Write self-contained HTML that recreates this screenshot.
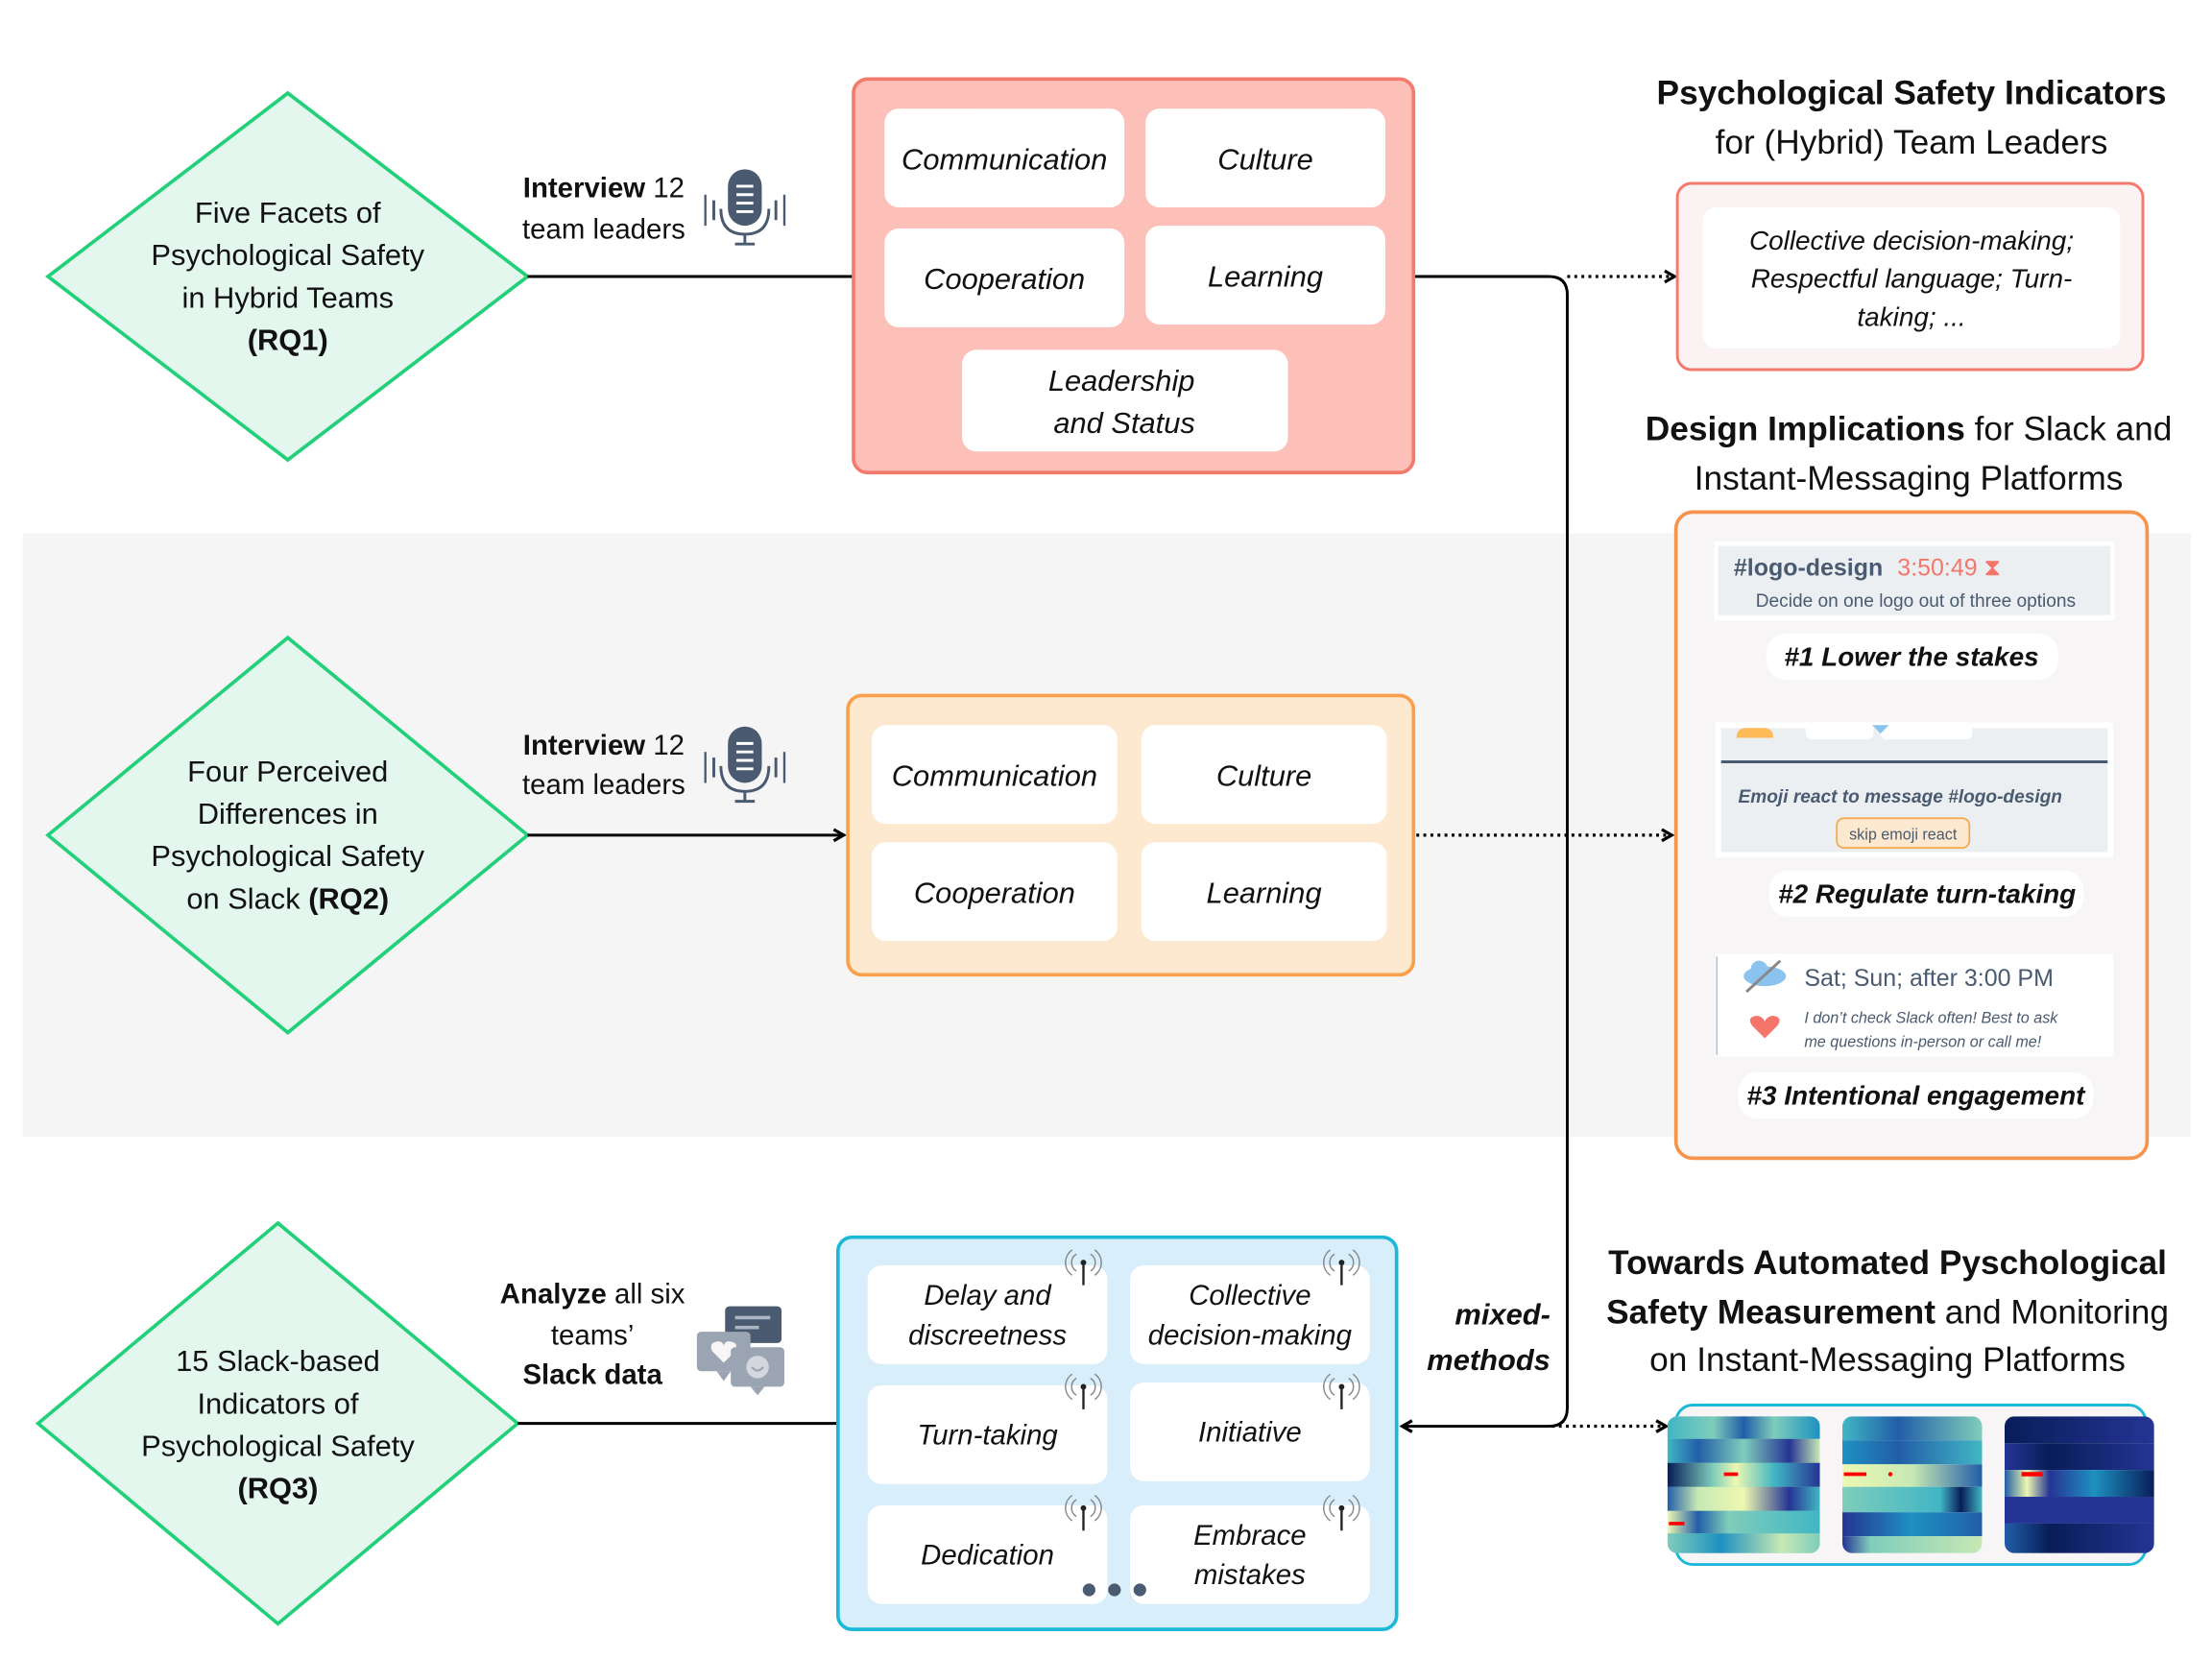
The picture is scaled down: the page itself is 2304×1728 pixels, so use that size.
<!DOCTYPE html>
<html><head><meta charset="utf-8"><style>
html,body{margin:0;padding:0;background:#fff;}
svg{display:block;}
text{font-family:"Liberation Sans",sans-serif;}
</style></head><body>
<svg width="2304" height="1728" viewBox="0 0 1568 1176" xmlns="http://www.w3.org/2000/svg">
<defs>
<marker id="ah" markerWidth="10" markerHeight="10" refX="8" refY="5" orient="auto" markerUnits="userSpaceOnUse"><path d="M1,1 L8,5 L1,9" fill="none" stroke="#000" stroke-width="2.2"/></marker>
<clipPath id="r1"><rect width="108" height="97" rx="7"/></clipPath>
<clipPath id="r2"><rect width="99" height="97" rx="7"/></clipPath>
<clipPath id="r3"><rect width="106" height="97" rx="7"/></clipPath>
<linearGradient id="a1" x1="0" x2="1"><stop offset="0" stop-color="#41b6c4"/><stop offset=".3" stop-color="#7fcdbb"/><stop offset=".5" stop-color="#225ea8"/><stop offset=".7" stop-color="#7fcdbb"/><stop offset="1" stop-color="#1d91c0"/></linearGradient>
<linearGradient id="a2" x1="0" x2="1"><stop offset="0" stop-color="#41b6c4"/><stop offset=".2" stop-color="#225ea8"/><stop offset=".5" stop-color="#7fcdbb"/><stop offset=".8" stop-color="#253494"/><stop offset="1" stop-color="#c7e9b4"/></linearGradient>
<linearGradient id="a3" x1="0" x2="1"><stop offset="0" stop-color="#081d58"/><stop offset=".3" stop-color="#7fcdbb"/><stop offset=".45" stop-color="#edf8b1"/><stop offset=".7" stop-color="#41b6c4"/><stop offset="1" stop-color="#253494"/></linearGradient>
<linearGradient id="a4" x1="0" x2="1"><stop offset="0" stop-color="#225ea8"/><stop offset=".2" stop-color="#c7e9b4"/><stop offset=".5" stop-color="#edf8b1"/><stop offset=".8" stop-color="#253494"/><stop offset="1" stop-color="#41b6c4"/></linearGradient>
<linearGradient id="a5" x1="0" x2="1"><stop offset="0" stop-color="#edf8b1"/><stop offset=".2" stop-color="#225ea8"/><stop offset=".4" stop-color="#7fcdbb"/><stop offset="1" stop-color="#41b6c4"/></linearGradient>
<linearGradient id="a6" x1="0" x2="1"><stop offset="0" stop-color="#7fcdbb"/><stop offset=".35" stop-color="#1d91c0"/><stop offset=".75" stop-color="#c7e9b4"/><stop offset="1" stop-color="#7fcdbb"/></linearGradient>
<linearGradient id="b1" x1="0" x2="1"><stop offset="0" stop-color="#41b6c4"/><stop offset=".4" stop-color="#225ea8"/><stop offset="1" stop-color="#7fcdbb"/></linearGradient>
<linearGradient id="b2" x1="0" x2="1"><stop offset="0" stop-color="#1d91c0"/><stop offset=".4" stop-color="#225ea8"/><stop offset="1" stop-color="#41b6c4"/></linearGradient>
<linearGradient id="b3" x1="0" x2="1"><stop offset="0" stop-color="#edf8b1"/><stop offset=".5" stop-color="#c7e9b4"/><stop offset="1" stop-color="#225ea8"/></linearGradient>
<linearGradient id="b4" x1="0" x2="1"><stop offset="0" stop-color="#7fcdbb"/><stop offset=".7" stop-color="#41b6c4"/><stop offset=".85" stop-color="#081d58"/><stop offset="1" stop-color="#41b6c4"/></linearGradient>
<linearGradient id="b5" x1="0" x2="1"><stop offset="0" stop-color="#253494"/><stop offset=".5" stop-color="#1d91c0"/><stop offset="1" stop-color="#225ea8"/></linearGradient>
<linearGradient id="b6" x1="0" x2="1"><stop offset="0" stop-color="#253494"/><stop offset=".2" stop-color="#7fcdbb"/><stop offset="1" stop-color="#c7e9b4"/></linearGradient>
<linearGradient id="c1" x1="0" x2="1"><stop offset="0" stop-color="#081d58"/><stop offset="1" stop-color="#253494"/></linearGradient>
<linearGradient id="c2" x1="0" x2="1"><stop offset="0" stop-color="#253494"/><stop offset=".3" stop-color="#081d58"/><stop offset="1" stop-color="#253494"/></linearGradient>
<linearGradient id="c3" x1="0" x2="1"><stop offset="0" stop-color="#225ea8"/><stop offset=".15" stop-color="#edf8b1"/><stop offset=".3" stop-color="#253494"/><stop offset=".6" stop-color="#1d91c0"/><stop offset="1" stop-color="#081d58"/></linearGradient>
<linearGradient id="c4" x1="0" x2="1"><stop offset="0" stop-color="#253494"/><stop offset="1" stop-color="#253494"/></linearGradient>
<linearGradient id="c5" x1="0" x2="1"><stop offset="0" stop-color="#225ea8"/><stop offset=".3" stop-color="#081d58"/><stop offset="1" stop-color="#253494"/></linearGradient>
<g id="ant"><line x1="0" y1="0" x2="0" y2="16" stroke="#222" stroke-width="1.6"/><circle cx="0" cy="0" r="2" fill="#222"/><path d="M-5,-6 A7,7 0 0,0 -5,6 M5,-6 A7,7 0 0,1 5,6 M-8,-9 A11,11 0 0,0 -8,9 M8,-9 A11,11 0 0,1 8,9" fill="none" stroke="#888" stroke-width="1"/></g>
<g id="mic"><rect x="-12" y="-28" width="24" height="40" rx="12" fill="#4a5a70"/><line x1="-6" y1="-16" x2="6" y2="-16" stroke="#fff" stroke-width="2"/><line x1="-6" y1="-10" x2="6" y2="-10" stroke="#fff" stroke-width="2"/><line x1="-6" y1="-4" x2="6" y2="-4" stroke="#fff" stroke-width="2"/><line x1="-6" y1="2" x2="6" y2="2" stroke="#fff" stroke-width="2"/><path d="M-17,0 Q-17,18 0,18 Q17,18 17,0" fill="none" stroke="#4a5a70" stroke-width="2"/><line x1="0" y1="18" x2="0" y2="25" stroke="#4a5a70" stroke-width="2"/><line x1="-7" y1="25" x2="7" y2="25" stroke="#4a5a70" stroke-width="2"/><line x1="-22" y1="-6" x2="-22" y2="8" stroke="#4a5a70" stroke-width="2"/><line x1="22" y1="-6" x2="22" y2="8" stroke="#4a5a70" stroke-width="2"/><line x1="-28" y1="-10" x2="-28" y2="12" stroke="#4a5a70" stroke-width="1.6"/><line x1="28" y1="-10" x2="28" y2="12" stroke="#4a5a70" stroke-width="1.6"/></g>
</defs>

<rect x="16" y="378" width="1537" height="428" fill="#f6f5f6"/>

<polygon points="204,66 374,196 204,326 34,196" fill="#e3f7ee" stroke="#22d07a" stroke-width="2.5"/>
<polygon points="204,452 374,592 204,732 34,592" fill="#e3f7ee" stroke="#22d07a" stroke-width="2.5"/>
<polygon points="197,867 367,1009 197,1151 27,1009" fill="#e3f7ee" stroke="#22d07a" stroke-width="2.5"/>
<g font-size="21" text-anchor="middle" fill="#111">
<text x="204" y="158">Five Facets of</text><text x="204" y="188">Psychological Safety</text><text x="204" y="218">in Hybrid Teams</text><text x="204" y="248" font-weight="bold">(RQ1)</text>
<text x="204" y="554">Four Perceived</text><text x="204" y="584">Differences in</text><text x="204" y="614">Psychological Safety</text><text x="204" y="644">on Slack <tspan font-weight="bold">(RQ2)</tspan></text>
<text x="197" y="972">15 Slack-based</text><text x="197" y="1002">Indicators of</text><text x="197" y="1032">Psychological Safety</text><text x="197" y="1062" font-weight="bold">(RQ3)</text>
</g>

<line x1="374" y1="196" x2="605" y2="196" stroke="#000" stroke-width="2"/>
<line x1="374" y1="592" x2="598" y2="592" stroke="#000" stroke-width="2" marker-end="url(#ah)"/>
<line x1="367" y1="1009" x2="594" y2="1009" stroke="#000" stroke-width="2"/>
<path d="M1002,196 L1098,196 Q1111,196 1111,209 L1111,998 Q1111,1011 1098,1011 L994,1011" fill="none" stroke="#000" stroke-width="2" marker-end="url(#ah)"/>
<line x1="1111" y1="196" x2="1187" y2="196" stroke="#000" stroke-width="2.2" stroke-dasharray="2,3" marker-end="url(#ah)"/>
<line x1="1004" y1="592" x2="1185" y2="592" stroke="#000" stroke-width="2.2" stroke-dasharray="2,3" marker-end="url(#ah)"/>
<line x1="1100" y1="1011" x2="1181" y2="1011" stroke="#000" stroke-width="2.2" stroke-dasharray="2,3" marker-end="url(#ah)"/>

<g font-size="20" text-anchor="middle" fill="#111">
<text x="428" y="140"><tspan font-weight="bold">Interview</tspan> 12</text><text x="428" y="169">team leaders</text>
<text x="428" y="535"><tspan font-weight="bold">Interview</tspan> 12</text><text x="428" y="563">team leaders</text>
<text x="420" y="924"><tspan font-weight="bold">Analyze</tspan> all six</text><text x="420" y="953">teams’</text><text x="420" y="981" font-weight="bold">Slack data</text>
</g>
<use href="#mic" x="528" y="148"/>
<use href="#mic" x="528" y="543"/>
<rect x="514" y="926" width="40" height="26" rx="3" fill="#4a5a70"/><line x1="521" y1="934" x2="546" y2="934" stroke="#aab4c2" stroke-width="2.5"/><line x1="521" y1="941" x2="538" y2="941" stroke="#aab4c2" stroke-width="2.5"/>
<rect x="494" y="944" width="38" height="28" rx="3" fill="#9aa4b2"/><path d="M508,972 L513,979 L518,972Z" fill="#9aa4b2"/>
<path d="M513,966 L505,958 Q502,952 508,951 Q512,950 513,954 Q514,950 518,951 Q524,952 521,958Z" fill="#f7f5f6"/>
<rect x="518" y="955" width="38" height="28" rx="3" fill="#9aa4b2"/><path d="M532,983 L537,989 L542,983Z" fill="#9aa4b2"/><circle cx="537" cy="969" r="8" fill="#d4d8de"/><path d="M533,969 Q537,974 541,969" fill="none" stroke="#9aa4b2" stroke-width="1.5"/>

<rect x="605" y="56" width="397" height="279" rx="10" fill="#fdc0b8" stroke="#f47a6e" stroke-width="2.5"/>
<g fill="#fff"><rect x="627" y="77" width="170" height="70" rx="10"/><rect x="812" y="77" width="170" height="70" rx="10"/><rect x="627" y="162" width="170" height="70" rx="10"/><rect x="812" y="160" width="170" height="70" rx="10"/><rect x="682" y="248" width="231" height="72" rx="10"/></g>
<g font-size="21" font-style="italic" text-anchor="middle" fill="#111">
<text x="712" y="120">Communication</text><text x="897" y="120">Culture</text><text x="712" y="205">Cooperation</text><text x="897" y="203">Learning</text><text x="795" y="277">Leadership</text><text x="797" y="307">and Status</text>
</g>

<rect x="601" y="493" width="401" height="198" rx="10" fill="#fde9cf" stroke="#f9a04d" stroke-width="2.5"/>
<g fill="#fff"><rect x="618" y="514" width="174" height="70" rx="10"/><rect x="809" y="514" width="174" height="70" rx="10"/><rect x="618" y="597" width="174" height="70" rx="10"/><rect x="809" y="597" width="174" height="70" rx="10"/></g>
<g font-size="21" font-style="italic" text-anchor="middle" fill="#111">
<text x="705" y="557">Communication</text><text x="896" y="557">Culture</text><text x="705" y="640">Cooperation</text><text x="896" y="640">Learning</text>
</g>

<rect x="594" y="877" width="396" height="278" rx="10" fill="#d8eefa" stroke="#1cb8d8" stroke-width="2.5"/>
<g fill="#fff"><rect x="615" y="897" width="170" height="70" rx="10"/><rect x="801" y="897" width="170" height="70" rx="10"/><rect x="615" y="982" width="170" height="70" rx="10"/><rect x="801" y="980" width="170" height="70" rx="10"/><rect x="615" y="1067" width="170" height="70" rx="10"/><rect x="801" y="1067" width="170" height="70" rx="10"/></g>
<g font-size="20" font-style="italic" text-anchor="middle" fill="#111">
<text x="700" y="925">Delay and</text><text x="700" y="953">discreetness</text>
<text x="886" y="925">Collective</text><text x="886" y="953">decision-making</text>
<text x="700" y="1024">Turn-taking</text><text x="886" y="1022">Initiative</text>
<text x="700" y="1109">Dedication</text>
<text x="886" y="1095">Embrace</text><text x="886" y="1123">mistakes</text>
</g>
<use href="#ant" x="768" y="895"/><use href="#ant" x="951" y="895"/><use href="#ant" x="768" y="983"/><use href="#ant" x="951" y="983"/><use href="#ant" x="768" y="1069"/><use href="#ant" x="951" y="1069"/>
<circle cx="772" cy="1127" r="4.5" fill="#4a5a70"/><circle cx="790" cy="1127" r="4.5" fill="#4a5a70"/><circle cx="808" cy="1127" r="4.5" fill="#4a5a70"/>

<g font-size="21" font-style="italic" font-weight="bold" text-anchor="end" fill="#111"><text x="1099" y="939">mixed-</text><text x="1099" y="971">methods</text></g>

<g font-size="24" text-anchor="middle" fill="#111">
<text x="1355" y="74" font-weight="bold">Psychological Safety Indicators</text>
<text x="1355" y="109">for (Hybrid) Team Leaders</text>
<text x="1353" y="312"><tspan font-weight="bold">Design Implications</tspan> for Slack and</text>
<text x="1353" y="347">Instant-Messaging Platforms</text>
<text x="1338" y="903" font-weight="bold">Towards Automated Pyschological</text>
<text x="1338" y="938"><tspan font-weight="bold">Safety Measurement</tspan> and Monitoring</text>
<text x="1338" y="972">on Instant-Messaging Platforms</text>
</g>
<rect x="1189" y="130" width="330" height="132" rx="10" fill="#fbf3f3" stroke="#f47a6e" stroke-width="2"/>
<rect x="1207" y="147" width="296" height="100" rx="10" fill="#fff"/>
<g font-size="19" font-style="italic" text-anchor="middle" fill="#111"><text x="1355" y="177">Collective decision-making;</text><text x="1355" y="204">Respectful language; Turn-</text><text x="1355" y="231">taking; ...</text></g>

<rect x="1188" y="363" width="334" height="458" rx="12" fill="#f7f5f6" stroke="#f7944c" stroke-width="2.5"/>
<rect x="1215" y="384" width="284" height="56" fill="#fff"/><rect x="1218" y="387" width="278" height="49" fill="#eceff2"/>
<text x="1229" y="408" font-size="17" font-weight="bold" fill="#4a5a70">#logo-design</text>
<text x="1345" y="408" font-size="17" fill="#f4766a">3:50:49 ⧗</text>
<text x="1358" y="430" font-size="13" text-anchor="middle" fill="#4a5a70">Decide on one logo out of three options</text>
<rect x="1252" y="449" width="207" height="33" rx="14" fill="#fff"/>
<text x="1355" y="472" font-size="19" font-style="italic" font-weight="bold" text-anchor="middle" fill="#111">#1 Lower the stakes</text>

<rect x="1216" y="512" width="282" height="96" fill="#fff"/><rect x="1220" y="516" width="274" height="88" fill="#eceff2"/>
<path d="M1231,523 Q1231,516 1238,516 L1250,516 Q1257,516 1257,523Z" fill="#fdba56"/>
<rect x="1280" y="512" width="48" height="12" rx="4" fill="#fff"/><rect x="1333" y="512" width="65" height="12" rx="4" fill="#fff"/>
<path d="M1327,514 L1333,520 L1339,514Z" fill="#8ac4ee"/>
<line x1="1220" y1="540" x2="1494" y2="540" stroke="#4a5a70" stroke-width="2"/>
<text x="1347" y="569" font-size="13" font-style="italic" font-weight="bold" text-anchor="middle" fill="#4a5a70">Emoji react to message #logo-design</text>
<rect x="1302" y="580" width="94" height="21" rx="5" fill="#fde9cf" stroke="#f6a94a" stroke-width="1.2"/>
<text x="1349" y="595" font-size="11" text-anchor="middle" fill="#4a5a70">skip emoji react</text>
<rect x="1254" y="617" width="223" height="33" rx="14" fill="#fff"/>
<text x="1366" y="640" font-size="19" font-style="italic" font-weight="bold" text-anchor="middle" fill="#111">#2 Regulate turn-taking</text>

<rect x="1216" y="676" width="282" height="73" fill="#fff"/><line x1="1217" y1="678" x2="1217" y2="748" stroke="#b8c0cc" stroke-width="1"/>
<ellipse cx="1251" cy="692" rx="15" ry="7" fill="#8ac4ee"/><circle cx="1247" cy="687" r="6" fill="#8ac4ee"/><line x1="1238" y1="703" x2="1262" y2="681" stroke="#888" stroke-width="2"/>
<path d="M1251,736 L1242,727 Q1238,721 1245,720 Q1249,720 1251,724 Q1253,720 1257,720 Q1264,721 1260,727Z" fill="#f4766a"/>
<text x="1279" y="699" font-size="17" fill="#4a5a70">Sat; Sun; after 3:00 PM</text>
<text x="1279" y="725" font-size="11" font-style="italic" fill="#4a5a70">I don’t check Slack often! Best to ask</text>
<text x="1279" y="742" font-size="11" font-style="italic" fill="#4a5a70">me questions in-person or call me!</text>
<rect x="1232" y="760" width="252" height="33" rx="14" fill="#fff"/>
<text x="1358" y="783" font-size="19" font-style="italic" font-weight="bold" text-anchor="middle" fill="#111">#3 Intentional engagement</text>

<rect x="1188" y="996" width="333" height="113" rx="12" fill="#f7f5f6" stroke="#1cb8d8" stroke-width="2"/>
<svg x="1182" y="1004" width="108" height="97"><g clip-path="url(#r1)"><rect width="108" height="97" fill="#7fcdbb"/>
<rect y="0" width="108" height="16" fill="url(#a1)"/><rect y="16" width="108" height="17" fill="url(#a2)"/><rect y="33" width="108" height="17" fill="url(#a3)"/><rect y="50" width="108" height="17" fill="url(#a4)"/><rect y="67" width="108" height="16" fill="url(#a5)"/><rect y="83" width="108" height="14" fill="url(#a6)"/>
<line x1="40" y1="41" x2="50" y2="41" stroke="#f00" stroke-width="2.5"/><line x1="1" y1="76" x2="12" y2="76" stroke="#f00" stroke-width="2.5"/></g></svg>
<svg x="1306" y="1004" width="99" height="97"><g clip-path="url(#r2)"><rect y="0" width="99" height="17" fill="url(#b1)"/><rect y="17" width="99" height="17" fill="url(#b2)"/><rect y="34" width="99" height="16" fill="url(#b3)"/><rect y="50" width="99" height="18" fill="url(#b4)"/><rect y="68" width="99" height="17" fill="url(#b5)"/><rect y="85" width="99" height="12" fill="url(#b6)"/>
<line x1="1" y1="41" x2="17" y2="41" stroke="#f00" stroke-width="2.5"/><circle cx="34" cy="41" r="1.5" fill="#f00"/></g></svg>
<svg x="1421" y="1004" width="106" height="97"><g clip-path="url(#r3)"><rect y="0" width="106" height="19" fill="url(#c1)"/><rect y="19" width="106" height="19" fill="url(#c2)"/><rect y="38" width="106" height="19" fill="url(#c3)"/><rect y="57" width="106" height="19" fill="url(#c4)"/><rect y="76" width="106" height="21" fill="url(#c5)"/>
<line x1="12" y1="41" x2="27" y2="41" stroke="#f00" stroke-width="3"/></g></svg>
</svg>
</body></html>
